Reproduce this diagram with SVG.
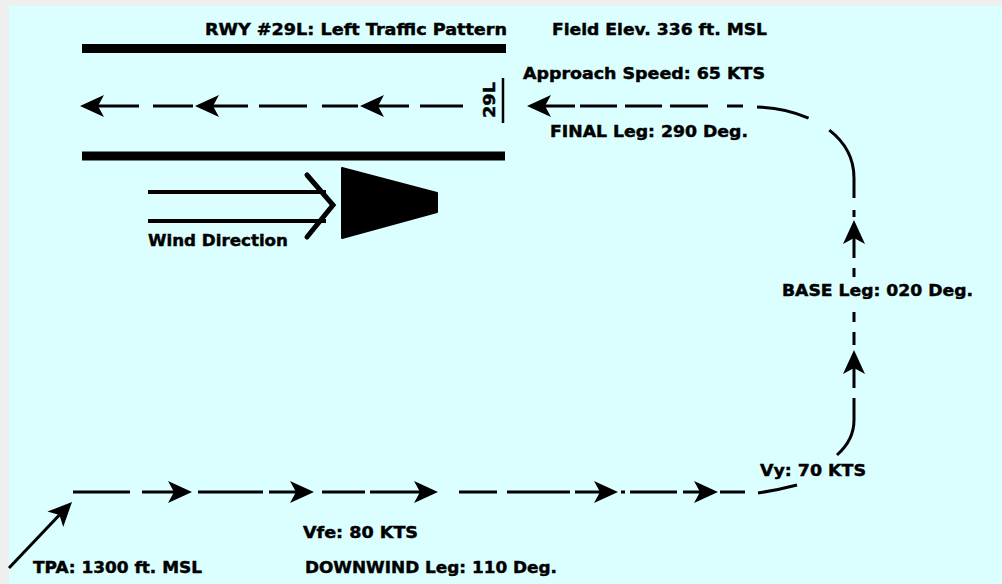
<svg xmlns="http://www.w3.org/2000/svg" xmlns:xlink="http://www.w3.org/1999/xlink" width="1002" height="584" viewBox="0 0 1002 584">
<style>
.t{font-family:"DejaVu Sans","Liberation Sans",sans-serif;font-weight:bold;font-size:16px;fill:#000;stroke:#000;stroke-width:0.45}
.d{fill:none;stroke:#000;stroke-width:3;stroke-linecap:butt}
.rw{fill:none;stroke:#000;stroke-width:9}
.ah{fill:#000}
</style>
<defs>
<path id="ah" d="M0,0 L-24,-11 L-18,0 L-24,11 Z"/>
</defs>
<rect x="0" y="0" width="1002" height="584" fill="#efefef"/>
<rect x="9" y="6" width="993" height="578" fill="#dbffff"/>

<g id="runway">
<line class="rw" x1="82" y1="48.5" x2="506" y2="48.5"/>
<line class="rw" x1="82" y1="156" x2="505" y2="156"/>
<line x1="503" y1="78" x2="503" y2="123" stroke="#000" stroke-width="2.5"/>
<text class="t" transform="translate(495,100) rotate(-90)" text-anchor="middle" textLength="36" lengthAdjust="spacingAndGlyphs">29L</text>
</g>

<g id="wind">
<line x1="148" y1="192" x2="326" y2="192" stroke="#000" stroke-width="4"/>
<line x1="148" y1="221" x2="326" y2="221" stroke="#000" stroke-width="4"/>
<polyline points="307,175 333,205 307,237" fill="none" stroke="#000" stroke-width="5" stroke-linecap="round"/>
<polygon points="342,168 437,193 437,212 342,238" fill="#000" stroke="#000" stroke-width="2" stroke-linejoin="round"/>
<text class="t" x="148" y="246" textLength="140" lengthAdjust="spacingAndGlyphs">Wind Direction</text>
</g>

<g id="labels">
<text id="title" class="t" x="205" y="35" textLength="302" lengthAdjust="spacingAndGlyphs">RWY #29L: Left Traffic Pattern</text>
<text id="elev" class="t" x="552" y="35" textLength="215" lengthAdjust="spacingAndGlyphs">Field Elev. 336 ft. MSL</text>
<text id="approach" class="t" x="523" y="79" textLength="242" lengthAdjust="spacingAndGlyphs">Approach Speed: 65 KTS</text>
<text id="final" class="t" x="550" y="137" textLength="198" lengthAdjust="spacingAndGlyphs">FINAL Leg: 290 Deg.</text>
<text id="base" class="t" x="782" y="296" textLength="191" lengthAdjust="spacingAndGlyphs">BASE Leg: 020 Deg.</text>
<text id="vy" class="t" x="760" y="476" textLength="106" lengthAdjust="spacingAndGlyphs">Vy: 70 KTS</text>
<text id="vfe" class="t" x="303" y="538" textLength="115" lengthAdjust="spacingAndGlyphs">Vfe: 80 KTS</text>
<text id="tpa" class="t" x="33" y="573" textLength="169" lengthAdjust="spacingAndGlyphs">TPA: 1300 ft. MSL</text>
<text id="downwind" class="t" x="305" y="573" textLength="252" lengthAdjust="spacingAndGlyphs">DOWNWIND Leg: 110 Deg.</text>
</g>

<g id="connectors">
<!-- runway centerline -->
<path class="d" d="M88,106 H139 M153,106 H193 M203,106 H248 M259,106 H307 M322,106 H358 M368,106 H409 M420,106 H463"/>
<use href="#ah" class="ah" transform="translate(80,106) rotate(180)"/>
<use href="#ah" class="ah" transform="translate(195,106) rotate(180)"/>
<use href="#ah" class="ah" transform="translate(360,106) rotate(180)"/>
<!-- final -->
<path class="d" d="M535,106 H575 M580,106 H617 M625,106 H662 M670,106 H708 M727,106 H743"/>
<use href="#ah" class="ah" transform="translate(527,106) rotate(180)"/>
<path class="d" d="M757,107 C800,108 854,130 854,178 V198" stroke-dasharray="53 24 200"/>
<!-- base -->
<path class="d" d="M854,210 V217 M854,228 V258 M854,268 V277 M854,312 V322 M854,332 V345 M854,358 V388 M854,398 V420 Q854,440 837,455"/>
<use href="#ah" class="ah" transform="translate(854,220) rotate(-90)"/>
<use href="#ah" class="ah" transform="translate(854,350) rotate(-90)"/>
<path class="d" d="M758,493 Q778,490 797,485"/>
<!-- downwind -->
<path class="d" d="M73,492 H130 M142,492 H186 M198,492 H263 M269,492 H308 M322,492 H365 M370,492 H432 M459,492 H497 M507,492 H570 M575,492 H612 M621,492 H625 M630,492 H677 M683,492 H712 M720,492 H745"/>
<use href="#ah" class="ah" transform="translate(192,492)"/>
<use href="#ah" class="ah" transform="translate(314,492)"/>
<use href="#ah" class="ah" transform="translate(438,492)"/>
<use href="#ah" class="ah" transform="translate(618,492)"/>
<use href="#ah" class="ah" transform="translate(718,492)"/>
<!-- TPA entry -->
<path class="d" d="M9,568 L66,508"/>
<use href="#ah" class="ah" transform="translate(72,502) rotate(-46)"/>
</g>
</svg>
